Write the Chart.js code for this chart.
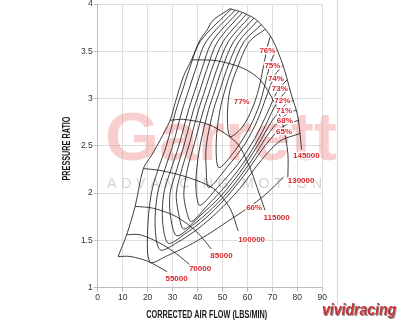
<!DOCTYPE html>
<html><head><meta charset="utf-8">
<script src="https://cdn.jsdelivr.net/npm/chart.js@4.4.1/dist/chart.umd.min.js"></script>
<style>html,body{margin:0;padding:0;background:#fff;}#wrap{position:relative;width:400px;height:320px;}</style>
</head><body><div id="wrap"><canvas id="c" width="400" height="320"></canvas></div>
<script>
// ---- axis ticks and titles ----
const xTicks = [0,10,20,30,40,50,60,70,80,90];
const yTicks = [1,1.5,2,2.5,3,3.5,4];
const xTitle = 'CORRECTED AIR FLOW (LBS/MIN)';
const yTitle = 'PRESSURE RATIO';

// ---- surge line and speed lines: [corrected air flow, pressure ratio] ----
const surgeLine = [[8.2,1.33],[11.6,1.56],[15,1.86],[18.3,2.26],[21.6,2.4],[25,2.56],[29,2.77],[31,2.95],[34.3,3.23],[37.6,3.41],[41,3.62],[43.7,3.72],[46.3,3.83],[53,3.95]];
const speed55000 = [[8.2,1.33],[13,1.33],[20,1.28],[27.8,1.17]];
const speed70000 = [[11.6,1.56],[17,1.56],[25,1.47],[31.5,1.36],[37,1.24]];
const speed85000 = [[15,1.86],[22.3,1.84],[31.6,1.75],[39.7,1.59],[45.5,1.41]];
const speed100000 = [[18.3,2.26],[25,2.24],[35.7,2.17],[46.3,2.05],[53,1.84],[56.3,1.6]];
const speed115000 = [[29,2.77],[34.3,2.78],[45,2.72],[55.7,2.53],[60.5,2.3],[64,2.05],[67,1.82]];
const speed130000 = [[37.6,3.41],[47.7,3.4],[58.3,3.32],[65,3.2],[70.4,2.98],[74.2,2.72],[76.2,2.42],[76.2,2.16]];
const speed145000 = [[53,3.95],[58,3.91],[63.7,3.83],[69.7,3.64],[74.4,3.34],[77.5,3.05],[80.2,2.81],[81.7,2.46]];

// ---- efficiency islands ----
const eff60 = [[53.5,3.946],[41,3.6],[36.6,3.3],[34,3.09],[31.4,2.88],[27.5,2.5],[24.3,2.26],[21.5,2.0],[20,1.6],[21,1.27],[28,1.34],[36,1.44],[44,1.56],[52,1.7],[60,1.84],[67,1.98],[74.5,2.17]];
const eff65 = [[55,3.934],[43.4,3.6],[39.1,3.3],[36.5,3.09],[33.9,2.88],[30,2.5],[27,2.26],[24,2.0],[23,1.65],[25,1.4],[32,1.48],[40,1.62],[48,1.8],[57,2.05],[65,2.33],[73,2.55],[81,2.63]];
const eff68 = [[56.5,3.922],[45.8,3.6],[41.6,3.3],[39,3.09],[36.4,2.88],[32.5,2.5],[29.5,2.26],[26.5,2.0],[26,1.7],[28.3,1.47],[35,1.57],[43,1.73],[51,1.94],[59,2.2],[67,2.5],[74,2.7],[80.4,2.77]];
const eff71 = [[58,3.91],[48,3.6],[43.6,3.3],[41,3.09],[38.4,2.88],[34.5,2.5],[31.8,2.26],[29,2.0],[29.2,1.75],[31.6,1.55],[38,1.66],[46,1.84],[54,2.07],[62,2.36],[69,2.65],[75,2.82],[79.6,2.88]];
const eff72 = [[59.5,3.89],[50.2,3.6],[45.6,3.3],[43,3.09],[40.4,2.88],[36.5,2.5],[33.8,2.26],[31.5,2.0],[32.3,1.8],[34.5,1.62],[41,1.76],[49,1.96],[57,2.22],[64,2.5],[70,2.77],[75,2.93],[78.4,2.98]];
const eff73 = [[61,3.87],[52.3,3.6],[47.6,3.3],[45,3.09],[42.4,2.88],[38.5,2.5],[36,2.26],[34.5,2.0],[35.5,1.82],[37.5,1.7],[44,1.87],[52,2.1],[60,2.38],[66,2.65],[71,2.92],[74.5,3.05],[77,3.1]];
const eff74 = [[62.5,3.85],[54.4,3.6],[49.6,3.3],[47,3.09],[44.4,2.88],[41,2.5],[39.5,2.2],[39.5,2.0],[41,1.87],[48,2.06],[56,2.3],[63,2.58],[68,2.85],[72,3.08],[75.9,3.2]];
const eff75 = [[64,3.82],[56.5,3.6],[51.6,3.3],[49,3.09],[46.4,2.88],[43.5,2.5],[43.5,2.25],[44.5,2.06],[52,2.28],[59,2.52],[64,2.77],[68,3.05],[71,3.25],[74.3,3.35]];
const eff76 = [[65.5,3.78],[58.6,3.6],[53.6,3.3],[51,3.09],[49,2.88],[47.5,2.55],[48.5,2.27],[55,2.45],[61,2.7],[65,2.95],[67.5,3.2],[69.5,3.4],[71.7,3.51]];
const eff77 = [[67,3.73],[60.7,3.6],[55.6,3.3],[53,3.09],[52,2.85],[53,2.6],[58,2.7],[62,2.9],[64.5,3.1],[66.5,3.35],[68,3.55],[69.2,3.66]];

// ---- labels ----
const speedNames = ['55000','70000','85000','100000','115000','130000','145000'];
const speedLabelX = [31.6,41,49.6,61.7,71.7,81.5,83.6];
const speedLabelY = [1.09,1.2,1.34,1.51,1.74,2.13,2.4];
const effNames = ['60%','65%','68%','71%','72%','73%','74%','75%','76%','77%'];
const effLabelX = [62.7,74.7,75,74.7,74,73,71.4,70,68,57.7];
const effLabelY = [1.84,2.65,2.77,2.87,2.98,3.1,3.21,3.35,3.505,2.97];

const curves = [surgeLine,speed55000,speed70000,speed85000,speed100000,speed115000,speed130000,speed145000,
  eff60,eff65,eff68,eff71,eff72,eff73,eff74,eff75,eff76,eff77];

const datasets = curves.map(pts => ({
  data: pts.map(p => ({x:p[0], y:p[1]})),
  showLine: true, pointRadius: 0, borderColor: '#1e1e1e', borderWidth: 0.85, tension: 0.3, fill: false
}));

const bgPlugin = {
  id: 'wm',
  beforeDatasetsDraw(chart){
    const ctx = chart.ctx; ctx.save();
    ctx.font = 'bold 68px "Liberation Sans", Arial, sans-serif';
    ctx.fillStyle = 'rgba(236,120,120,0.36)';
    ctx.textBaseline = 'alphabetic';
    const w = ctx.measureText('Garrett').width;
    ctx.translate(105, 160); ctx.scale(232 / w, 1);
    ctx.fillText('Garrett', 0, 0);
    ctx.setTransform(1,0,0,1,0,0);
    ctx.font = '14px "Liberation Sans", Arial, sans-serif';
    ctx.fillStyle = '#d4d4d4';
    const chars = 'ADVANCING MOTION'.split('');
    const widths = chars.map(c => ctx.measureText(c).width);
    const total = widths.reduce((a,b)=>a+b,0);
    const gap = (215 - total) / (chars.length - 1);
    let px = 107;
    chars.forEach((c,i) => { ctx.fillText(c, px, 188); px += widths[i] + gap; });
    ctx.restore();
  }
};

const labelPlugin = {
  id: 'lbl',
  afterDatasetsDraw(chart){
    const {ctx, scales:{x, y}} = chart;
    ctx.save();
    ctx.font = 'bold 8px "Liberation Sans", Arial, sans-serif';
    ctx.textAlign = 'center'; ctx.textBaseline = 'middle'; ctx.lineJoin = 'round';
    const draw = (t, vx, vy) => {
      const px = x.getPixelForValue(vx), py = y.getPixelForValue(vy);
      ctx.strokeStyle = '#fff'; ctx.lineWidth = 3; ctx.strokeText(t, px, py);
      ctx.fillStyle = '#d9262c'; ctx.fillText(t, px, py);
    };
    effNames.forEach((t,i) => draw(t, effLabelX[i], effLabelY[i]));
    speedNames.forEach((t,i) => draw(t, speedLabelX[i], speedLabelY[i]));
    ctx.restore();
  },
  afterDraw(chart){
    const ctx = chart.ctx; ctx.save();
    // axis titles (condensed bold)
    ctx.font = 'bold 10.5px "Liberation Sans", Arial, sans-serif';
    ctx.fillStyle = '#1a1a1a'; ctx.textAlign = 'center'; ctx.textBaseline = 'middle';
    let w = ctx.measureText(xTitle).width;
    ctx.translate(206.7, 315); ctx.scale(121 / w, 1); ctx.fillText(xTitle, 0, 0);
    ctx.setTransform(1,0,0,1,0,0);
    w = ctx.measureText(yTitle).width;
    ctx.translate(67, 148.5); ctx.rotate(-Math.PI/2); ctx.scale(64 / w, 1); ctx.fillText(yTitle, 0, 0);
    ctx.setTransform(1,0,0,1,0,0);
    // frame line and logo
    ctx.strokeStyle = '#d6d6d6'; ctx.lineWidth = 1;
    ctx.beginPath(); ctx.moveTo(337.5, 0); ctx.lineTo(337.5, 305); ctx.stroke();
    ctx.textAlign = 'left'; ctx.textBaseline = 'alphabetic';
    ctx.font = 'italic bold 16px "Liberation Sans", Arial, sans-serif';
    w = ctx.measureText('vividracing').width;
    ctx.translate(322, 315); ctx.scale(74 / w, 1);
    ctx.fillStyle = '#8a8a8a'; ctx.fillText('vividracing', 1.2, 1.2);
    ctx.fillStyle = '#c9343b'; ctx.fillText('vividracing', 0, 0);
    ctx.restore();
  }
};

const tickFont = {family: "'Liberation Sans',Arial,sans-serif", size: 8.5};

new Chart(document.getElementById('c'), {
  type: 'scatter',
  data: { datasets },
  options: {
    responsive: false, animation: false, devicePixelRatio: 1,
    layout: { padding: { left: 60.7, right: 77.7, top: 4, bottom: 0 } },
    plugins: { legend: { display: false }, tooltip: { enabled: false } },
    scales: {
      x: {
        type: 'linear', min: 0, max: 90,
        afterBuildTicks: s => { s.ticks = xTicks.map(v => ({value: v})); },
        afterFit: s => { s.height = 32.3; s.paddingLeft = 0; s.paddingRight = 0; },
        ticks: { font: tickFont, color: '#333', padding: 1, maxRotation: 0, callback: v => String(v) },
        grid: { color: '#dedede', lineWidth: 1, tickLength: 4, tickColor: '#bdbdbd' },
        border: { color: '#bdbdbd' },
        title: { display: false }
      },
      y: {
        type: 'linear', min: 1, max: 4,
        afterBuildTicks: s => { s.ticks = yTicks.map(v => ({value: v})); },
        afterFit: s => { s.width = 37; s.paddingTop = 0; s.paddingBottom = 0; },
        ticks: { font: tickFont, color: '#333', padding: 1, callback: v => String(v) },
        grid: { color: '#dedede', lineWidth: 1, tickLength: 4, tickColor: '#bdbdbd' },
        border: { color: '#bdbdbd' },
        title: { display: false }
      }
    }
  },
  plugins: [bgPlugin, labelPlugin]
});
</script></body></html>
